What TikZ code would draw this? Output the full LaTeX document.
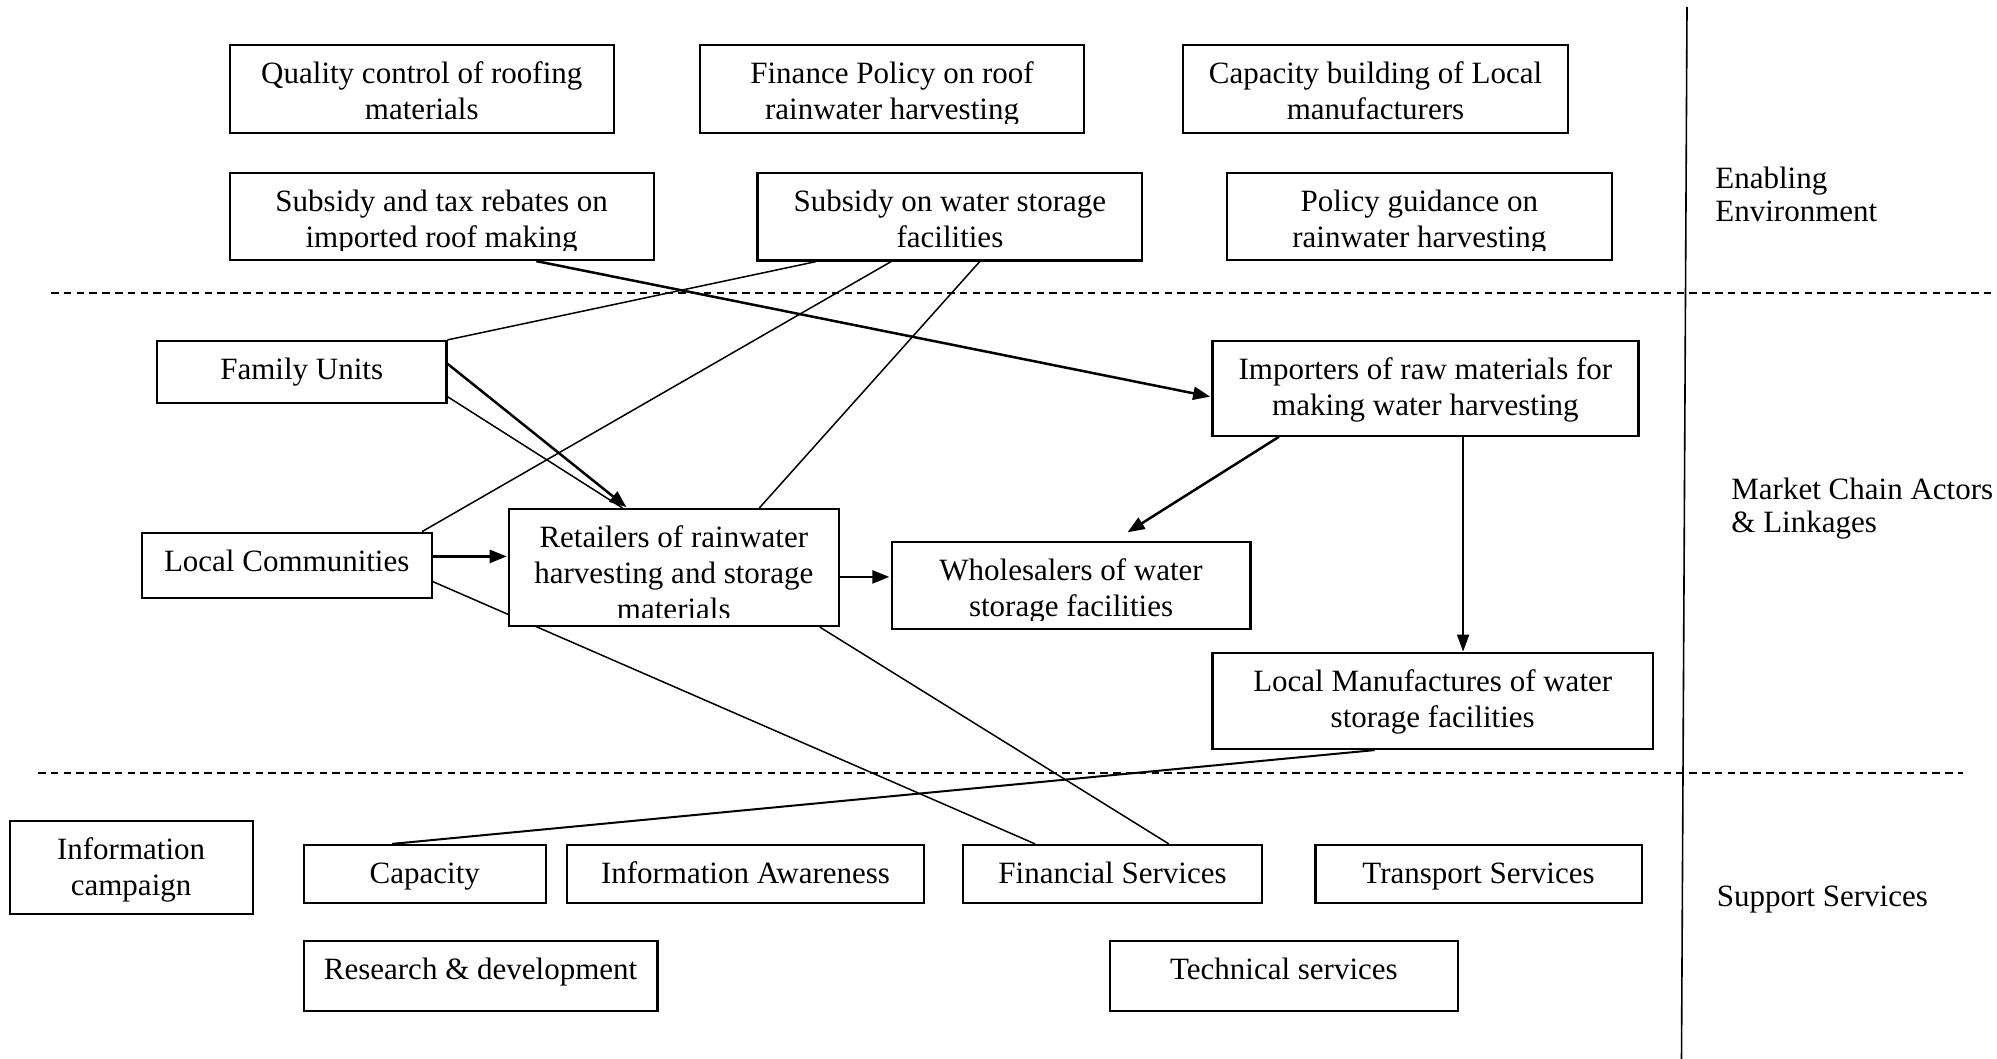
\documentclass[tikz,border=0pt]{standalone}
\usepackage{fontspec}
\setmainfont{Liberation Serif}
\usetikzlibrary{arrows.meta,calc,fit,backgrounds}

\tikzset{
  boxframe/.style={draw, line width=1.1pt, fill=white, inner sep=0pt},
  boxtext/.style={anchor=base, inner sep=0pt, font={\fontsize{15.5}{18}\selectfont}},
  sidetext/.style={anchor=base west, inner sep=0pt, font={\fontsize{15.5}{16.8}\selectfont}},
  thinlink/.style={line width=0.75pt},
  medlink/.style={line width=1pt},
  flow/.style={line width=1.25pt, -{Triangle[length=8.5pt,width=6.5pt]}, shorten >=0.6pt},
  flowmed/.style={line width=0.95pt, -{Triangle[length=8.5pt,width=6pt]}},
  divider/.style={line width=1pt, dash pattern=on 3.8pt off 2.6pt},
}

% framed text box: name, x1, y1, x2, y2, lines (text is top aligned and clipped)
\newcommand\wbox[6]{%
  \node[boxframe, fit={(#2,#3) (#4,#5)}] (#1) {};
  \begin{scope}
    \clip (#2+2,#3+2) rectangle (#4-2,#5-9);
    \node[boxtext] at ({(#2+#4)/2},#3+38.5) {\begin{tabular}[t]{@{}c@{}}#6\end{tabular}};
  \end{scope}
}

\begin{document}
\begin{tikzpicture}[x=0.5pt, y=-0.5pt]
\useasboundingbox (0,0) rectangle (1997,1059);
\begin{scope}[on background layer]
  \fill[white] (0,0) rectangle (1997,1059);
\end{scope}

% section dividers
\draw[divider] (51,293) -- (1997,293);
\draw[divider] (38,773) -- (1963,773);
\draw[line width=0.8pt] (1687,7) -- (1681.5,1059);

% enabling environment
\wbox{quality}{229.6}{45}{614}{133}{Quality control of roofing\\materials}
\wbox{finance}{700}{45}{1084}{133}{Finance Policy on roof\\rainwater harvesting}
\wbox{capbuild}{1183}{45}{1568}{133}{Capacity building of Local\\manufacturers}
\wbox{subtax}{229.6}{172.7}{653.7}{260}{Subsidy and tax rebates on\\imported roof making}
\wbox{subwater}{757.5}{172.7}{1142.3}{260.5}{Subsidy on water storage\\facilities}
\wbox{policy}{1227}{172.7}{1611.7}{260}{Policy guidance on\\rainwater harvesting}

% market chain actors
\wbox{famunits}{157}{341}{446.4}{403.3}{Family Units}
\wbox{importers}{1212.4}{341}{1638.4}{435.7}{Importers of raw materials for\\making water harvesting}
\wbox{localcomm}{141.6}{532.7}{431.8}{598.3}{Local Communities}
\wbox{retailers}{509}{509}{838.6}{626}{Retailers of rainwater\\harvesting and storage\\materials}
\wbox{wholesalers}{891.6}{541.7}{1250.5}{629}{Wholesalers of water\\storage facilities}
\wbox{localmanu}{1212.4}{652.7}{1653}{749}{Local Manufactures of water\\storage facilities}

% support services
\wbox{infocamp}{9.6}{821}{252.6}{914}{Information\\campaign}
\wbox{capacity}{303.6}{845}{546}{902.7}{Capacity}
\wbox{infoaware}{567}{845}{924}{902.7}{Information Awareness}
\wbox{financial}{963}{845}{1262}{902.7}{Financial Services}
\wbox{transport}{1315.4}{845}{1641.6}{902.7}{Transport Services}
\wbox{research}{303.6}{940.7}{657.5}{1011}{Research \& development}
\wbox{technical}{1110}{940.7}{1457.8}{1011}{Technical services}

% section labels
\node[sidetext] (lblenv) at (1715,188.3) {\begin{tabular}[t]{@{}l@{}}Enabling\\Environment\end{tabular}};
\node[sidetext] (lblmarket) at (1731,499.3) {\begin{tabular}[t]{@{}l@{}}Market Chain Actors\\\& Linkages\end{tabular}};
\node[sidetext] (lblsupport) at (1716.5,906.7) {Support Services};

% linkages (behind the boxes)
\begin{scope}[on background layer]
  \draw[flow] ($(subtax.south west)!0.722!(subtax.south east)$) -- ($(importers.north west)!0.588!(importers.south west)$);
  \draw[thinlink] ($(subwater.south west)!0.154!(subwater.south east)$) -- (famunits.north east);
  \draw[thinlink] ($(subwater.south west)!0.348!(subwater.south east)$) -- ($(localcomm.north west)!0.963!(localcomm.north east)$);
  \draw[thinlink] ($(subwater.south west)!0.577!(subwater.south east)$) -- ($(retailers.north west)!0.758!(retailers.north east)$);
  \draw[flow] ($(famunits.north east)!0.37!(famunits.south east)$) -- ($(retailers.north west)!0.36!(retailers.north east)$);
  \draw[thinlink] ($(famunits.north east)!0.88!(famunits.south east)$) -- ($(retailers.north west)!0.345!(retailers.north east)$);
  \draw[flow] ($(localcomm.north east)!0.366!(localcomm.south east)$) coordinate (lcout) -- (lcout -| retailers.west);
  \draw[flow] ($(retailers.north east)!0.579!(retailers.south east)$) coordinate (rtout) -- (rtout -| wholesalers.west);
  \draw[thinlink] ($(localcomm.north east)!0.738!(localcomm.south east)$) -- ($(financial.north west)!0.243!(financial.north east)$);
  \draw[thinlink] ($(retailers.south west)!0.94!(retailers.south east)$) -- ($(financial.north west)!0.687!(financial.north east)$);
  \draw[flow, shorten >=7.8pt] ($(importers.south west)!0.158!(importers.south east)$) -- ($(wholesalers.north west)!0.62!(wholesalers.north east)$);
  \draw[flowmed] ($(importers.south west)!0.588!(importers.south east)$) coordinate (imout) -- (imout |- localmanu.north);
  \draw[medlink] ($(localmanu.south west)!0.369!(localmanu.south east)$) -- ($(capacity.north west)!0.366!(capacity.north east)$);
\end{scope}
\end{tikzpicture}
\end{document}
